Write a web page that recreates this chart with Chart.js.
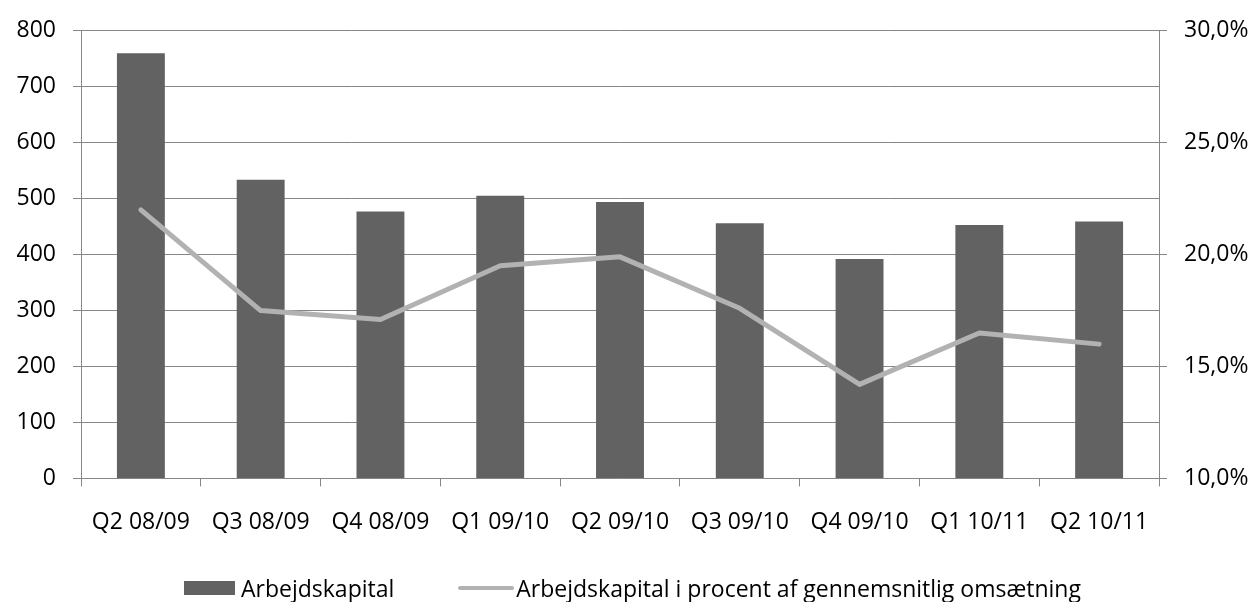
<!DOCTYPE html>
<html lang="da">
<head>
<meta charset="utf-8">
<title>Arbejdskapital</title>
<script src="https://cdn.jsdelivr.net/npm/chart.js@4.4.1/dist/chart.umd.min.js"></script>
<style>
  html, body { margin: 0; padding: 0; background: #fff; }
  #wrap { width: 1255px; height: 602px; position: relative; }
  #legend {
    position: absolute; left: 184px; top: 576px;
    display: flex; align-items: center;
    font-family: "Open Sans", sans-serif; font-size: 23px; line-height: 24px; color: #000;
    white-space: nowrap;
  }
  .lg-item { display: flex; align-items: center; }
  .lg-item + .lg-item { margin-left: 64px; }
  .lg-bar  { width: 51px; height: 14px; margin-right: 6px; }
  .lg-line { width: 56px; height: 4px; border-radius: 2px; margin-right: 2px; }
</style>
</head>
<body>
<div id="wrap">
  <canvas id="chart"></canvas>
  <div id="legend"></div>
</div>
<script>
// ─── Data ───
const QUARTERS = ['Q2 08/09', 'Q3 08/09', 'Q4 08/09', 'Q1 09/10', 'Q2 09/10',
                  'Q3 09/10', 'Q4 09/10', 'Q1 10/11', 'Q2 10/11'];
const KAPITAL  = [760, 534, 477, 505, 494, 456, 392, 453, 459];
const PROCENT  = [22.0, 17.5, 17.1, 19.5, 19.9, 17.6, 14.2, 16.5, 16.0];

const LEFT_TICKS  = { min: 0,  max: 800, step: 100 };
const RIGHT_TICKS = { min: 10, max: 30,  step: 5 };

const LABEL_BAR  = 'Arbejdskapital';
const LABEL_LINE = 'Arbejdskapital i procent af gennemsnitlig omsætning';

// ─── Chart defaults ───
Chart.defaults.font.family = '"Open Sans", sans-serif';
Chart.defaults.font.size   = 23;
Chart.defaults.color       = '#000';
Chart.defaults.animation   = false;

const GRID = '#878787';
const pct  = v => v.toFixed(1).replace('.', ',') + '%';

const ctx = document.getElementById('chart').getContext('2d');
const chart = new Chart(ctx, {
  type: 'bar',
  data: {
    labels: QUARTERS,
    datasets: [
      {
        label: LABEL_BAR,
        data: KAPITAL,
        yAxisID: 'y',
        backgroundColor: '#626262',
        borderWidth: 0,
        categoryPercentage: 1,
        barPercentage: 0.4,
        order: 1,
      },
      {
        type: 'line',
        label: LABEL_LINE,
        data: PROCENT,
        yAxisID: 'y1',
        borderColor: '#b2b2b2',
        backgroundColor: '#b2b2b2',
        borderWidth: 5,
        borderCapStyle: 'round',
        borderJoinStyle: 'round',
        tension: 0,
        pointRadius: 0,
        order: 0,
      },
    ],
  },
  options: {
    responsive: true,
    maintainAspectRatio: false,
    layout: { padding: { top: 23, left: 0, right: 0, bottom: 44 } },
    plugins: {
      tooltip: { enabled: false },
      legend: { display: false },
    },
    scales: {
      x: {
        grid: { drawOnChartArea: false, drawTicks: true, tickLength: 8, color: GRID, offset: true },
        border: { color: GRID, width: 1 },
        ticks: { padding: 22, maxRotation: 0, autoSkip: false },
      },
      y: {
        position: 'left',
        min: LEFT_TICKS.min, max: LEFT_TICKS.max,
        grid: { color: GRID, tickLength: 8 },
        border: { color: GRID, width: 1 },
        ticks: { stepSize: LEFT_TICKS.step, padding: 17 },
        afterFit: s => { s.width = 81; },
      },
      y1: {
        position: 'right',
        min: RIGHT_TICKS.min, max: RIGHT_TICKS.max,
        grid: { drawOnChartArea: false, color: GRID, tickLength: 8 },
        border: { color: GRID, width: 1 },
        ticks: { stepSize: RIGHT_TICKS.step, padding: 17, callback: v => pct(v) },
        afterFit: s => { s.width = 96; },
      },
    },
  },
});

// ─── HTML legend ───
const legend = document.getElementById('legend');
legend.innerHTML = chart.data.datasets.map(ds => {
  const cls = ds.type === 'line' ? 'lg-line' : 'lg-bar';
  const col = ds.type === 'line' ? ds.borderColor : ds.backgroundColor;
  return `<div class="lg-item"><span class="${cls}" style="background:${col}"></span><span>${ds.label}</span></div>`;
}).join('');
</script>
</body>
</html>
